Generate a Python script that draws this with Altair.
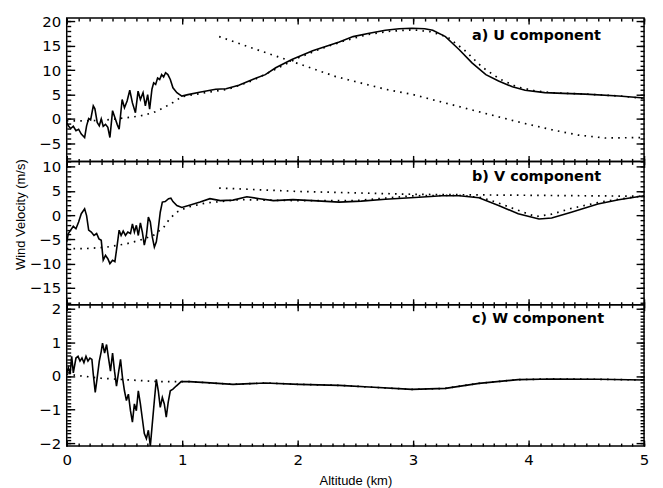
import altair as alt
import pandas as pd

# ---------------- data ----------------
# a) U component: measured (solid)
u_km = [0.0, 0.014, 0.034, 0.057, 0.080, 0.103, 0.126, 0.155, 0.172, 0.190, 0.207, 0.230, 0.244,
        0.264, 0.282, 0.299, 0.316, 0.336, 0.356, 0.374, 0.397, 0.417, 0.437, 0.454, 0.480, 0.500,
        0.523, 0.546, 0.569, 0.595, 0.618, 0.638, 0.661, 0.681, 0.701, 0.718, 0.738, 0.753, 0.770,
        0.787, 0.805, 0.822, 0.839, 0.856, 0.876, 0.897, 0.920, 0.954, 0.997, 1.05, 1.15, 1.29,
        1.38, 1.49, 1.61, 1.72, 1.81, 1.95, 2.13, 2.36, 2.48, 2.62, 2.76, 2.88, 2.99, 3.10, 3.17,
        3.28, 3.40, 3.51, 3.63, 3.74, 3.86, 3.97, 4.14, 4.30, 4.49, 4.78, 5.0]
u_val = [-0.7, -1.4, -1.95, -1.5, -2.4, -2.1, -3.1, -3.8, -1.4, 0.1, -0.2, 2.7, 2.1,
         -0.7, -1.4, 0.0, -1.5, -1.1, -1.7, -3.8, 1.7, 0.3, -1.1, -2.1, 4.0, 2.3,
         3.7, 5.9, 3.3, 1.3, 5.7, 4.0, 5.4, 2.7, 5.0, 2.0, 6.1, 7.4, 7.1,
         8.4, 8.1, 9.1, 8.6, 9.5, 9.1, 8.1, 6.4, 5.4, 4.7, 5.0, 5.5, 6.1,
         6.2, 6.9, 8.1, 9.1, 10.5, 12.2, 14.0, 15.8, 16.9, 17.6, 18.2, 18.5, 18.6, 18.5, 18.2,
         16.9, 14.2, 11.5, 9.1, 7.8, 6.6, 5.9, 5.4, 5.25, 5.1, 4.7, 4.3]
# a) model (dotted, following)
um_km = [0, 0.17, 0.345, 0.46, 0.63, 0.75, 0.84, 0.92, 1.0, 1.2, 1.4, 1.6, 1.8, 2.0, 2.2, 2.4,
         2.6, 2.8, 3.0, 3.15, 3.3, 3.45, 3.6, 3.75, 3.9, 4.05, 4.2, 4.5, 4.8, 5.0]
um_val = [-0.4, -0.4, -0.2, 0.1, 0.6, 1.3, 2.3, 3.4, 4.6, 5.4, 6.1, 7.8, 10.1, 12.5, 14.4, 16.0,
          17.3, 18.0, 18.3, 17.9, 16.8, 14.0, 10.6, 8.2, 6.6, 5.8, 5.4, 5.1, 4.7, 4.2]
# a) second dotted curve (decreasing)
ur_km = [1.32, 1.6, 2.0, 2.33, 2.76, 3.0, 3.34, 3.6, 3.91, 4.2, 4.43, 4.66, 5.0]
ur_val = [16.9, 14.6, 11.4, 8.7, 6.1, 5.0, 2.9, 1.3, -0.6, -2.2, -3.3, -3.9, -3.8]

# b) V component: measured (solid)
v_km = [0.0, 0.014, 0.034, 0.057, 0.080, 0.103, 0.126, 0.155, 0.172, 0.190, 0.213, 0.236, 0.259,
        0.279, 0.299, 0.316, 0.336, 0.356, 0.374, 0.397, 0.417, 0.437, 0.454, 0.471, 0.489, 0.509,
        0.529, 0.552, 0.569, 0.586, 0.603, 0.620, 0.638, 0.655, 0.672, 0.690, 0.707, 0.724, 0.741,
        0.759, 0.776, 0.793, 0.810, 0.828, 0.853, 0.882, 0.902, 0.920, 0.954, 0.997, 1.07, 1.155,
        1.24, 1.33, 1.44, 1.56, 1.67, 1.79, 1.96, 2.13, 2.36, 2.55, 2.76, 3.05, 3.25, 3.40, 3.57,
        3.74, 3.91, 4.09, 4.20, 4.37, 4.60, 4.78, 5.0]
v_val = [-5.5, -3.8, -3.1, -2.3, -2.8, -1.4, 0.3, 1.3, -0.1, -3.1, -3.5, -4.2, -3.8,
         -4.9, -5.2, -9.3, -8.3, -9.0, -10.0, -9.3, -9.6, -6.2, -3.1, -4.2, -3.3, -4.2,
         -3.5, -3.8, -1.8, -3.5, -2.1, -4.2, -1.6, -3.5, -6.2, -4.2, -0.4, -1.4, -4.5,
         -6.6, -5.5, -2.8, 0.6, 2.7, 2.8, 3.4, 3.5, 2.8, 2.0, 1.6, 2.1, 2.7,
         3.4, 3.0, 3.1, 3.8, 3.4, 3.0, 3.2, 3.0, 2.7, 2.9, 3.3, 3.7, 4.0, 4.0, 3.6,
         2.0, 0.3, -0.8, -0.6, 0.6, 2.3, 3.2, 4.0]
vm_km = [0, 0.17, 0.345, 0.52, 0.63, 0.75, 0.84, 0.89, 0.95, 1.04, 1.2, 1.5, 2.0, 2.5, 3.0, 3.4,
         3.6, 3.74, 3.91, 4.06, 4.2, 4.37, 4.6, 4.78, 5.0]
vm_val = [-6.9, -6.9, -6.6, -5.9, -5.2, -4.2, -2.5, -0.8, 0.6, 1.6, 2.5, 3.2, 3.0, 3.0, 4.0, 4.1,
          3.6, 2.5, 1.0, -0.3, 0.2, 1.4, 2.6, 3.3, 4.0]
vr_km = [1.32, 2.0, 2.5, 3.0, 4.0, 5.0]
vr_val = [5.6, 4.9, 4.6, 4.3, 4.1, 3.9]

# c) W component: measured (solid)
w_km = [0.0, 0.014, 0.029, 0.043, 0.057, 0.080, 0.098, 0.115, 0.132, 0.149, 0.167, 0.184, 0.201,
        0.218, 0.230, 0.247, 0.264, 0.282, 0.299, 0.310, 0.328, 0.345, 0.362, 0.379, 0.397, 0.414,
        0.431, 0.448, 0.466, 0.483, 0.500, 0.517, 0.534, 0.552, 0.569, 0.586, 0.603, 0.620, 0.638,
        0.655, 0.672, 0.690, 0.707, 0.724, 0.741, 0.759, 0.776, 0.793, 0.810, 0.828, 0.845, 0.862,
        0.879, 0.897, 0.920, 0.948, 0.991, 1.06, 1.21, 1.44, 1.72, 2.01, 2.36, 2.62, 2.99, 3.28,
        3.57, 3.91, 4.20, 4.6, 5.0]
w_val = [0.09, 0.24, 0.05, 0.58, 0.09, 0.53, 0.58, 0.44, 0.53, 0.39, 0.58, 0.44, 0.53,
         0.49, 0.05, -0.49, -0.05, 0.44, 0.73, 0.97, 0.68, 0.93, 0.53, 0.14, 0.68, 0.14,
         -0.30, 0.09, 0.49, -0.05, -0.44, -0.73, -0.54, -1.03, -1.37, -0.83, -1.03, -0.44, -0.83,
         -1.27, -1.71, -1.86, -1.61, -2.08, -1.42, -0.73, -0.10, -0.44, -0.93, -0.64, -0.83, -1.22,
         -0.78, -0.44, -0.39, -0.30, -0.17, -0.17, -0.20, -0.25, -0.21, -0.25, -0.28, -0.33, -0.40,
         -0.37, -0.22, -0.11, -0.09, -0.10, -0.12]
wm_km = [0, 0.3, 0.6, 0.8, 0.991, 1.06, 1.21, 1.44, 1.72, 2.01, 2.36, 2.62, 2.99, 3.28, 3.57,
         3.91, 4.20, 4.6, 5.0]
wm_val = [0.05, -0.07, -0.13, -0.17, -0.17, -0.17, -0.20, -0.25, -0.21, -0.25, -0.28, -0.33,
          -0.40, -0.37, -0.22, -0.11, -0.09, -0.10, -0.12]

panel_labels = ["a) U component", "b) V component", "c) W component"]
label_km = [3.51, 3.51, 3.51]
label_val = [17.1, 7.8, 1.68]

y_domains = [[-8.7, 20.7], [-18.5, 11.1], [-2.08, 2.11]]
y_major = [[-5, 0, 5, 10, 15, 20], [-15, -10, -5, 0, 5, 10], [-2, -1, 0, 1, 2]]
y_minor = [list(range(-8, 21)), list(range(-18, 12)), [round(-2 + 0.1 * i, 1) for i in range(41)]]
x_major = [0, 1, 2, 3, 4, 5]
x_minor = [round(0.1 * i, 1) for i in range(51)]

# ---------------- styling ----------------
W = 580
HEIGHTS = [144, 144, 142]
LABEL_FONT = "DejaVu Sans"


def tick_axis(orient, values, size):
    return alt.Axis(orient=orient, values=values, labels=False, domain=False, grid=False,
                    ticks=True, tickSize={"expr": str(-size)}, tickWidth=1.4,
                    tickColor="black", title=None)


def make_panel(i, solid, dotted, show_x_labels, y_title):
    xs = alt.Scale(domain=[0, 5], nice=False, zero=False)
    ys = alt.Scale(domain=y_domains[i], nice=False, zero=False)

    if show_x_labels:
        x_lab = alt.Axis(orient="bottom", values=x_major, ticks=False, domain=False, grid=False,
                         labelPadding=7, labelFontSize=15, labelFont=LABEL_FONT,
                         labelColor="black", labelFlush=False, format="d",
                         title="Altitude (km)", titleFont="Liberation Sans",
                         titleFontSize=13, titleFontWeight="normal", titleColor="black",
                         titlePadding=7)
    else:
        x_lab = None
    y_kw = dict(orient="left", values=y_major[i], ticks=False, domain=False, grid=False,
                labelPadding=6, labelFontSize=15, labelFont=LABEL_FONT, labelColor="black",
                format="d")
    if y_title:
        y_lab = alt.Axis(title=y_title, titleFont="Liberation Sans", titleFontSize=13,
                         titleFontWeight="normal", titleColor="black", titlePadding=2,
                         titleY=53, **y_kw)
    else:
        y_lab = alt.Axis(title=None, **y_kw)

    x_axes = [x_lab, tick_axis("bottom", x_major, 6), tick_axis("bottom", x_minor, 3),
              tick_axis("top", x_major, 6), tick_axis("top", x_minor, 3)]
    y_axes = [y_lab, tick_axis("left", y_major[i], 8), tick_axis("left", y_minor[i], 4),
              tick_axis("right", y_major[i], 8), tick_axis("right", y_minor[i], 4)]

    builders = []
    for km, val in dotted:
        df = pd.DataFrame({"km": km, "v": val})
        builders.append(alt.Chart(df).mark_line(color="black", strokeWidth=1.7,
                                                strokeDash=[1.6, 5.2], clip=True))
    sdf = pd.DataFrame({"km": solid[0], "v": solid[1]})
    builders.append(alt.Chart(sdf).mark_line(color="black", strokeWidth=1.6, clip=True))
    tdf = pd.DataFrame({"km": [label_km[i]], "v": [label_val[i]], "t": [panel_labels[i]]})
    text_chart = alt.Chart(tdf).mark_text(align="left", baseline="middle", font=LABEL_FONT,
                                          fontWeight="bold", fontSize=14.5, color="black")
    while len(builders) + 1 < 5:
        builders.append(alt.Chart(sdf).mark_line(opacity=0))

    layers = []
    all_b = builders + [text_chart]
    for k, b in enumerate(all_b):
        enc = dict(x=alt.X("km:Q", scale=xs, axis=x_axes[k]),
                   y=alt.Y("v:Q", scale=ys, axis=y_axes[k]))
        if b is text_chart:
            enc["text"] = "t:N"
        layers.append(b.encode(**enc))
    return alt.layer(*layers).resolve_axis(x="independent", y="independent").properties(
        width=W, height=HEIGHTS[i])


pa = make_panel(0, (u_km, u_val), [(um_km, um_val), (ur_km, ur_val)], False, None)
pb = make_panel(1, (v_km, v_val), [(vm_km, vm_val), (vr_km, vr_val)], False,
                "Wind Velocity (m/s)")
pc = make_panel(2, (w_km, w_val), [(wm_km, wm_val)], True, None)

chart = alt.vconcat(pa, pb, pc, spacing=0, bounds="flush").resolve_scale(
    x="independent", y="independent"
).properties(
    padding={"left": 5, "top": 4, "right": 5, "bottom": 0},
    background="white",
).configure_view(stroke="black", strokeWidth=1.5)

chart.save("out.html", embed_options={"renderer": "svg", "actions": False})
